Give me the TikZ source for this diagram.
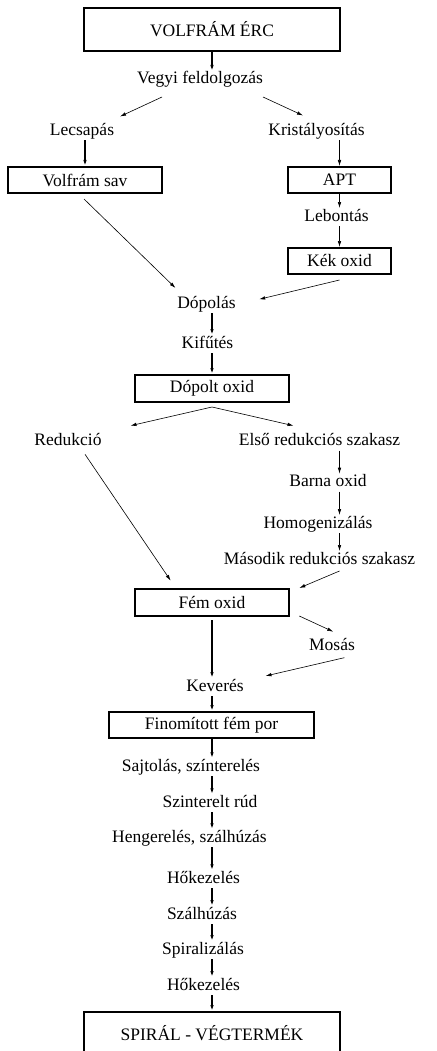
\documentclass[tikz,border=0pt]{standalone}
\usepackage{fontspec}
\setmainfont{Liberation Serif}
\usepackage{tikz}
\usetikzlibrary{positioning,calc}
\usetikzlibrary{arrows.meta}
\tikzstyle{doboz} = [rectangle, draw=black, line width=1.4pt, minimum height=26pt, text centered, inner sep=0pt, outer sep=1pt, font=\fontsize{17.5}{20}\selectfont]
\tikzstyle{lepes} = [inner sep=0pt, outer sep=1pt, text height=12pt, text depth=4pt, font=\fontsize{17.5}{20}\selectfont]
\tikzstyle{vastag} = [line width=1.3pt,-{Latex[length=6pt,width=3.5pt]}]
\tikzstyle{vekony} = [line width=0.6pt,-{Latex[length=6pt,width=3.5pt]}]

\begin{document}
\begin{tikzpicture}[x=1pt,y=-1pt]
	\path[use as bounding box,clip] (0,0) rectangle (436,1051);
	\coordinate (tengely) at (212,0);
	\node (erc) at (212,29.5) [doboz, minimum width=256pt, minimum height=43pt] {VOLFRÁM ÉRC};
	\node (vegyi) at (200,80) [lepes] {Vegyi feldolgozás};
	\node (lecsapas) at (82,131.5) [lepes] {Lecsapás};
	\node (krist) at (316.5,131.5) [lepes] {Kristályosítás};
	\node (volframsav) at (85,180) [doboz, minimum width=154pt] {Volfrám sav};
	\node (apt) at (339.5,180) [doboz, minimum width=103pt] {APT};
	\node (lebontas) at (336.5,217) [lepes] {Lebontás};
	\node (kekoxid) at (339.5,261) [doboz, minimum width=103pt] {Kék oxid};
	\node (dopolas) at (206.5,304) [lepes] {Dópolás};
	\node (kifutes) at (207.5,344) [lepes] {Kifűtés};
	\node (dopoltoxid) at (212,388.5) [doboz, minimum width=154pt, minimum height=27pt] {Dópolt oxid};
	\node (redukcio) at (68,441.7) [lepes] {Redukció};
	\node (elso) at (319.5,441.7) [lepes] {Első redukciós szakasz};
	\node (barna) at (328,482.7) [lepes] {Barna oxid};
	\node (homog) at (318,524) [lepes] {Homogenizálás};
	\node (masodik) at (319.5,560) [lepes] {Második redukciós szakasz};
	\node (femoxid) at (212,602.5) [doboz, minimum width=154pt, minimum height=27pt] {Fém oxid};
	\node (mosas) at (332,646) [lepes] {Mosás};
	\node (keveres) at (215,687) [lepes] {Keverés};
	\node (finom) at (211.5,725) [doboz, minimum width=205pt] {Finomított fém por};
	\node (sajtolas) at (191,767.3) [lepes] {Sajtolás, színterelés};
	\node (szinterelt) at (210,803.3) [lepes] {Szinterelt rúd};
	\node (hengereles) at (189.5,838.3) [lepes] {Hengerelés, szálhúzás};
	\node (hokez1) at (203.5,879.3) [lepes] {Hőkezelés};
	\node (szalhuzas) at (202,915) [lepes] {Szálhúzás};
	\node (spiral) at (203,950) [lepes] {Spiralizálás};
	\node (hokez2) at (203.5,986) [lepes] {Hőkezelés};
	\node (vegtermek) at (212,1033.5) [doboz, minimum width=256pt, minimum height=43pt] {SPIRÁL - VÉGTERMÉK};
	\draw[vastag] (erc.south -| tengely) -- (vegyi.north -| tengely);
	\draw[vekony] ($(vegyi.south)+(-38,8)$) -- ($(lecsapas.north)+(38,-6)$);
	\draw[vekony] ($(vegyi.south)+(63,8)$) -- ($(krist.north)+(-13.5,-7)$);
	\draw[vastag] (lecsapas.south -| volframsav) -- (volframsav.north);
	\draw[vekony] (krist.south -| apt) -- (apt.north);
	\draw[vekony] (apt.south) -- (lebontas.north -| apt);
	\draw[vekony] (lebontas.south -| apt) -- (kekoxid.north);
	\draw[vekony] ($(volframsav.south)+(-1,5)$) -- ($(dopolas.north)+(-31,-7)$);
	\draw[vekony] ($(kekoxid.south)+(0,5)$) -- ($(dopolas.east)+(22.5,-4.7)$);
	\draw[vastag] (dopolas.south -| tengely) -- (kifutes.north -| tengely);
	\draw[vastag] (kifutes.south -| tengely) -- (dopoltoxid.north);
	\draw[vekony] ($(dopoltoxid.south)+(0,4)$) -- ($(redukcio.north)+(62.5,-7)$);
	\draw[vekony] ($(dopoltoxid.south)+(0,4)$) -- ($(elso.north)+(-26,-7)$);
	\draw[vekony] (elso.south -| apt) -- (barna.north -| apt);
	\draw[vekony] (barna.south -| apt) -- (homog.north -| apt);
	\draw[vekony] (homog.south -| apt) -- (masodik.north -| apt);
	\draw[vekony] ($(redukcio.south)+(17,3.6)$) -- ($(femoxid.north west)+(36.7,-7.3)$);
	\draw[vekony] ($(masodik.south)+(20,2)$) -- ($(femoxid.north east)+(9.3,0)$);
	\draw[vekony] ($(femoxid.south east)+(9.3,-1)$) -- ($(mosas.north)+(1.3,-5.3)$);
	\draw[vekony] ($(mosas.south)+(12.3,2.7)$) -- ($(keveres.east)+(20.8,-11)$);
	\draw[vastag] ($(femoxid.south)+(0,3)$) -- (keveres.north -| tengely);
	\draw[vastag] (keveres.south -| tengely) -- (finom.north -| tengely);
	\draw[vastag] (finom.south -| tengely) -- (sajtolas.north -| tengely);
	\draw[vastag] (sajtolas.south -| tengely) -- (szinterelt.north -| tengely);
	\draw[vastag] (szinterelt.south -| tengely) -- (hengereles.north -| tengely);
	\draw[vastag] (hengereles.south -| tengely) -- (hokez1.north -| tengely);
	\draw[vastag] (hokez1.south -| tengely) -- (szalhuzas.north -| tengely);
	\draw[vastag] (szalhuzas.south -| tengely) -- (spiral.north -| tengely);
	\draw[vastag] (spiral.south -| tengely) -- (hokez2.north -| tengely);
	\draw[vastag] (hokez2.south -| tengely) -- (vegtermek.north);
\end{tikzpicture}
\end{document}
